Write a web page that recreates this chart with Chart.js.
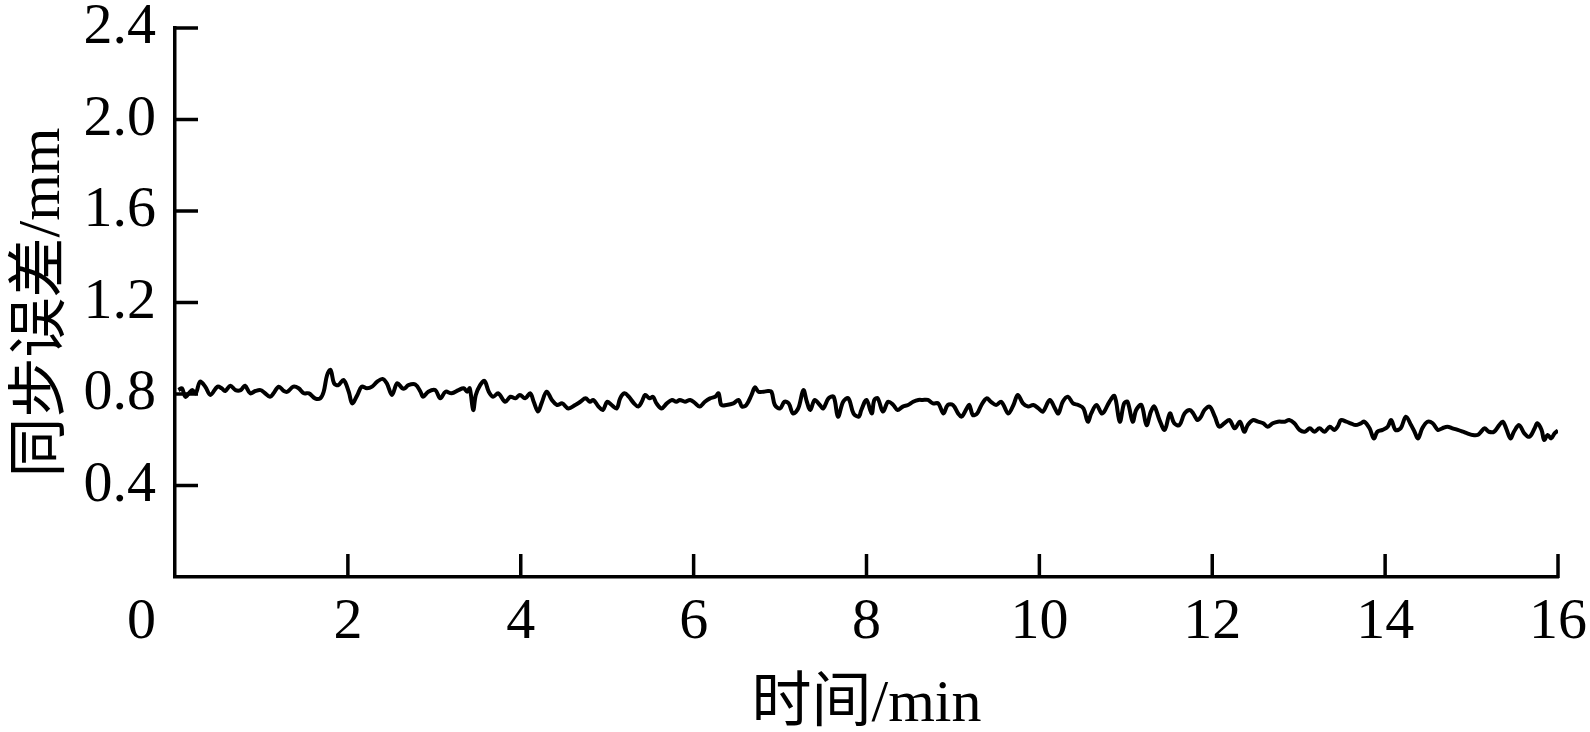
<!DOCTYPE html>
<html>
<head>
<meta charset="utf-8">
<script src="https://cdn.jsdelivr.net/npm/chart.js@4/dist/chart.umd.min.js"></script>
<style>
html,body{margin:0;padding:0;background:#fff;}
#wrap{width:1590px;height:732px;}
</style>
</head>
<body>
<div id="wrap"><canvas id="c" width="1590" height="732"></canvas></div>
<script>
// ---- data (time in min, synchronization error in mm) ----
const timeMin = [
  0.04,0.08,0.12,0.16,0.20,0.24,0.29,0.35,0.41,0.49,0.54,0.58,0.64,0.70,0.76,0.81,0.87,0.93,0.99,1.03,
  1.10,1.14,1.20,1.26,1.30,1.37,1.43,1.49,1.55,1.62,1.68,1.72,1.76,1.80,1.84,1.89,1.95,2.01,2.05,2.11,
  2.16,2.22,2.28,2.34,2.40,2.45,2.51,2.57,2.63,
  2.66,2.70,2.78,2.84,2.87,2.93,3.01,3.07,3.13,3.20,3.28,3.34,3.38,3.41,3.45,3.48,3.53,3.58,3.63,3.68,
  3.74,3.82,3.88,3.94,3.99,4.05,4.11,4.15,4.20,4.24,4.30,4.36,4.42,4.48,4.55,4.63,4.69,4.75,4.80,4.84,
  4.90,4.95,5.00,5.05,5.11,5.15,5.20,5.25,5.31,
  5.36,5.40,5.44,5.49,5.53,5.57,5.63,5.69,5.75,5.80,5.84,5.90,5.96,6.02,6.07,6.13,6.19,6.25,6.29,6.32,
  6.38,6.46,6.52,6.56,6.61,6.67,6.71,6.75,6.81,6.86,6.90,6.94,7.00,7.05,7.10,7.15,7.21,7.27,7.31,7.35,
  7.40,7.46,7.50,7.56,7.62,7.67,7.73,7.79,7.85,7.91,7.94,8.00,
  8.06,8.09,8.13,8.19,8.25,8.31,8.36,8.42,8.48,8.54,8.60,8.65,8.71,8.77,8.83,8.89,8.94,9.00,9.06,9.10,
  9.16,9.19,9.23,9.28,9.33,9.39,9.44,9.50,9.56,9.64,9.70,9.75,9.81,9.87,9.93,9.99,10.04,10.12,10.18,10.22,
  10.27,10.33,10.39,10.45,10.51,10.56,10.60,10.66,10.72,
  10.75,10.81,10.87,10.93,10.98,11.02,11.08,11.12,11.18,11.24,11.29,11.33,11.39,11.45,11.51,11.56,11.62,11.68,11.74,11.78,
  11.83,11.87,11.91,11.97,12.03,12.08,12.14,12.20,12.26,12.32,12.37,12.41,12.47,12.53,12.59,12.64,12.70,12.76,12.84,12.89,
  12.95,13.01,13.07,13.13,13.18,13.24,13.30,13.36,13.41,
  13.45,13.49,13.55,13.60,13.66,13.72,13.76,13.82,13.87,13.91,13.97,14.03,14.07,14.12,14.18,14.24,14.30,14.34,14.38,14.43,
  14.49,14.55,14.61,14.66,14.72,14.78,14.84,14.90,14.95,15.01,15.07,15.11,15.15,15.20,15.26,15.32,15.36,15.40,15.45,15.49,
  15.55,15.61,15.67,15.73,15.76,15.81,15.84,15.88,15.92,15.96,16.00
];
const syncError = [
  0.817,0.825,0.788,0.803,0.817,0.803,0.854,0.832,0.796,0.832,0.825,0.813,0.836,0.817,0.817,0.836,0.803,0.813,0.817,0.807,
  0.788,0.803,0.832,0.813,0.810,0.832,0.825,0.803,0.803,0.781,0.781,0.810,0.883,0.905,0.847,0.839,0.861,0.810,0.759,0.796,
  0.832,0.825,0.832,0.854,0.866,0.847,0.796,0.847,0.825,
  0.825,0.839,0.842,0.810,0.788,0.810,0.817,0.781,0.810,0.803,0.817,0.825,0.810,0.825,0.730,0.796,0.839,0.857,0.810,0.788,
  0.803,0.766,0.788,0.781,0.796,0.781,0.803,0.766,0.723,0.759,0.810,0.774,0.752,0.759,0.737,0.752,0.766,0.781,0.766,0.774,
  0.745,0.730,0.766,0.752,0.737,0.781,0.803,0.788,0.759,
  0.745,0.766,0.796,0.781,0.788,0.759,0.737,0.759,0.774,0.766,0.774,0.766,0.774,0.759,0.745,0.766,0.781,0.788,0.803,0.752,
  0.752,0.759,0.774,0.745,0.752,0.796,0.829,0.810,0.810,0.813,0.810,0.752,0.737,0.766,0.759,0.715,0.737,0.817,0.766,0.730,
  0.774,0.752,0.737,0.781,0.788,0.701,0.766,0.781,0.715,0.701,0.730,0.774,
  0.715,0.774,0.781,0.723,0.766,0.752,0.730,0.745,0.752,0.766,0.774,0.774,0.774,0.759,0.759,0.715,0.752,0.752,0.715,0.701,
  0.737,0.752,0.708,0.715,0.752,0.781,0.766,0.752,0.766,0.715,0.752,0.796,0.759,0.745,0.752,0.737,0.723,0.774,0.737,0.715,
  0.766,0.788,0.759,0.752,0.737,0.679,0.715,0.752,0.715,
  0.723,0.766,0.791,0.679,0.759,0.766,0.679,0.730,0.752,0.664,0.723,0.745,0.686,0.643,0.715,0.672,0.664,0.715,0.730,0.715,
  0.686,0.701,0.730,0.745,0.701,0.657,0.672,0.686,0.650,0.679,0.635,0.664,0.686,0.679,0.672,0.657,0.672,0.679,0.679,0.686,
  0.672,0.643,0.635,0.650,0.635,0.650,0.635,0.657,0.643,
  0.657,0.686,0.679,0.672,0.664,0.672,0.679,0.650,0.606,0.635,0.643,0.657,0.686,0.643,0.650,0.701,0.664,0.635,0.606,0.650,
  0.679,0.672,0.643,0.650,0.657,0.650,0.643,0.635,0.628,0.621,0.621,0.635,0.650,0.635,0.635,0.664,0.679,0.650,0.606,0.635,
  0.664,0.628,0.613,0.650,0.672,0.643,0.599,0.621,0.606,0.628,0.640
];
const xTickValues = [0, 2, 4, 6, 8, 10, 12, 14, 16];
const yTickValues = [0, 0.4, 0.8, 1.2, 1.6, 2.0, 2.4];
const yTickLabels = ['', '0.4', '0.8', '1.2', '1.6', '2.0', '2.4'];
const xTitle = '时间/min';
const yTitle = '同步误差/mm';
const originLabel = '0';

// ---- chart ----
const FONT = "'Liberation Serif', 'Noto Sans CJK SC', serif";
const FS = 58;
const TITLE_FS = 60;
const TICK_LEN = 23;

const points = timeMin.map((t, i) => ({x: t, y: syncError[i]}));

const inwardTicks = {
  id: 'inwardTicks',
  afterDraw(chart) {
    const {ctx, scales: {x, y}} = chart;
    ctx.save();
    ctx.strokeStyle = '#000';
    ctx.lineWidth = 3.5;
    ctx.lineCap = 'butt';
    xTickValues.forEach(v => {
      if (v === 0) return;
      const px = x.getPixelForValue(v);
      ctx.beginPath();
      ctx.moveTo(px, y.bottom + 1);
      ctx.lineTo(px, y.bottom - TICK_LEN);
      ctx.stroke();
    });
    yTickValues.forEach(v => {
      if (v === 0) return;
      const py = y.getPixelForValue(v);
      ctx.beginPath();
      ctx.moveTo(x.left - 1, py);
      ctx.lineTo(x.left + TICK_LEN, py);
      ctx.stroke();
    });
    ctx.fillStyle = '#000';
    ctx.font = FS + 'px ' + FONT;
    ctx.textAlign = 'right';
    ctx.textBaseline = 'middle';
    ctx.fillText(originLabel, x.left - 19, y.bottom + 46);
    ctx.restore();
  }
};

new Chart(document.getElementById('c'), {
  type: 'line',
  data: {
    datasets: [{
      data: points,
      borderColor: '#000',
      borderWidth: 4,
      pointRadius: 0,
      tension: 0.35,
      fill: false
    }]
  },
  options: {
    responsive: false,
    animation: false,
    devicePixelRatio: 1,
    layout: {padding: {left: 0, right: 32, top: 28, bottom: 0}},
    plugins: {legend: {display: false}, tooltip: {enabled: false}},
    scales: {
      x: {
        type: 'linear',
        min: 0, max: 16,
        afterBuildTicks: s => { s.ticks = xTickValues.map(v => ({value: v})); },
        afterFit: s => { s.height = 155; s.paddingLeft = 0; s.paddingRight = 0; },
        grid: {display: false, drawTicks: false},
        border: {display: true, color: '#000', width: 3.5},
        ticks: {
          color: '#000',
          font: {family: FONT, size: FS},
          padding: 11,
          maxRotation: 0,
          autoSkip: false,
          callback: v => (v === 0 ? '' : String(v))
        },
        title: {
          display: true, text: xTitle, color: '#000',
          font: {family: FONT, size: TITLE_FS, lineHeight: 0.8},
          padding: {top: 3, bottom: 3}
        }
      },
      y: {
        type: 'linear',
        min: 0, max: 2.4,
        afterBuildTicks: s => { s.ticks = yTickValues.map(v => ({value: v})); },
        afterFit: s => { s.width = 175; s.paddingTop = 0; s.paddingBottom = 0; },
        grid: {display: false, drawTicks: false},
        border: {display: true, color: '#000', width: 3.5},
        ticks: {
          color: '#000',
          font: {family: FONT, size: FS},
          padding: 19,
          autoSkip: false,
          callback: (v, i) => yTickLabels[yTickValues.indexOf(v)] ?? ''
        },
        title: {
          display: true, text: yTitle, color: '#000',
          font: {family: FONT, size: TITLE_FS, lineHeight: 1.0},
          padding: {top: 13, bottom: 13}
        }
      }
    }
  },
  plugins: [inwardTicks]
});
</script>
</body>
</html>
